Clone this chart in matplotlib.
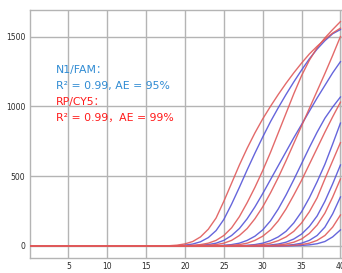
import numpy as np
import matplotlib as mpl
import matplotlib.pyplot as plt

mpl.rcParams.update({
    "font.family": ["DejaVu Sans", "Noto Sans CJK SC"],
    "figure.dpi": 100,
})

C_RED = "#e05a5a"
C_BLUE = "#5555d8"
C_TXT_BLUE = "#2f8bd3"
C_TXT_RED = "#ff1a1a"
C_GRID = "#b4b4b4"

cycles = np.arange(0, 41)

# amplification curves, values from the first rising cycle to cycle 40
# (earlier cycles sit on the baseline at 0); alternating CY5 (red) / FAM (blue)
start_cycle = [18, 19, 20, 21, 22, 24, 25, 27, 28, 30, 31, 32, 33, 34]
curve_vals = [
    [2, 6, 15, 32, 65, 120, 200, 320, 450, 580, 700, 810, 910, 1000, 1085,
     1165, 1240, 1310, 1375, 1430, 1480, 1525, 1560],
    [2, 6, 14, 30, 60, 110, 190, 300, 420, 545, 665, 780, 890, 990, 1085,
     1175, 1260, 1340, 1410, 1470, 1520, 1550],
    [2, 5, 10, 20, 40, 75, 130, 210, 310, 420, 540, 670, 810, 950, 1090,
     1220, 1330, 1420, 1490, 1550, 1607],
    [2, 5, 10, 20, 40, 75, 125, 195, 280, 375, 475, 575, 675, 775, 870, 965,
     1060, 1150, 1240, 1320],
    [2, 5, 10, 20, 40, 75, 125, 195, 280, 380, 490, 610, 735, 860, 985, 1110,
     1235, 1365, 1500],
    [2, 5, 10, 20, 40, 70, 115, 180, 265, 365, 475, 590, 705, 815, 915, 995,
     1067],
    [2, 5, 10, 20, 40, 70, 115, 180, 265, 365, 470, 585, 700, 815, 925, 1030],
    [2, 5, 10, 20, 38, 65, 105, 165, 245, 345, 460, 585, 730, 880],
    [2, 5, 10, 20, 38, 65, 105, 165, 245, 345, 480, 610, 740],
    [3, 7, 14, 27, 50, 85, 140, 215, 320, 445, 580],
    [3, 7, 14, 27, 50, 90, 150, 235, 350, 480],
    [2, 5, 10, 20, 40, 75, 135, 230, 351],
    [2, 5, 10, 20, 40, 75, 135, 222],
    [2, 4, 8, 16, 32, 65, 115],
]
curve_dye = ["CY5", "FAM"] * 7

label_fam = ["N1/FAM：", "R² = 0.99, AE = 95%"]
label_cy5 = ["RP/CY5：", "R² = 0.99，AE = 99%"]

fig = plt.figure(figsize=(3.42, 2.73))
ax = fig.add_axes([29.5 / 342, 1 - 257.7 / 273, 1 - 29.5 / 342,
                   (257.7 - 10) / 273])

# blue first so the red traces sit on top along the baseline
for dye_draw in ["FAM", "CY5"]:
    for s, vals, dye in zip(start_cycle, curve_vals, curve_dye):
        if dye != dye_draw:
            continue
        y = np.zeros(len(cycles))
        y[s:] = vals
        ax.plot(cycles, y, color=C_RED if dye == "CY5" else C_BLUE,
                linewidth=1.0, alpha=0.9, zorder=3)

ax.set_xlim(0, 40.2)
ax.set_ylim(-84, 1690)
ax.set_xticks([5, 10, 15, 20, 25, 30, 35, 40])
ax.set_yticks([0, 500, 1000, 1500])
ax.grid(True, color=C_GRID, linewidth=1.0)
ax.set_axisbelow(True)
ax.tick_params(length=0, labelsize=5.5, labelcolor="#2a2a2a", pad=3)
for sp in ax.spines.values():
    sp.set_color(C_GRID)
    sp.set_linewidth(1.0)

y0 = 0.758
step = 0.0646
for i, t in enumerate(label_fam + label_cy5):
    ax.text(0.085, y0 - i * step, t, transform=ax.transAxes, fontsize=7.8,
            color=C_TXT_BLUE if i < 2 else C_TXT_RED, va="center", ha="left")

fig.savefig("out.png", dpi=100)
